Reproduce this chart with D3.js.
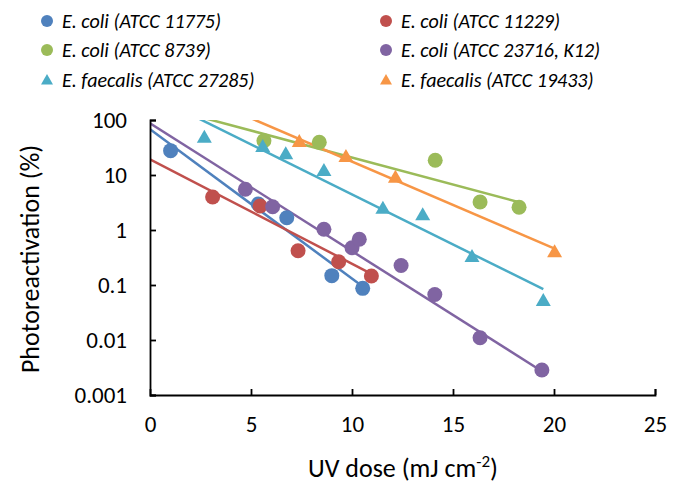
<!DOCTYPE html>
<html>
<head>
<meta charset="utf-8">
<script src="https://cdn.jsdelivr.net/npm/d3@7"></script>
<style>
  body { margin: 0; background: #fff; }
  text { font-family: Carlito, Calibri, Lato, sans-serif; fill: #000; }
</style>
</head>
<body>
<div id="chart"></div>
<script>
const width = 681;
const height = 483;
const margin = { top: 120, right: 26, bottom: 88, left: 150 };

// series names and colours
const names = [
  "E. coli (ATCC 11775)", "E. coli (ATCC 11229)",
  "E. coli (ATCC 8739)", "E. coli (ATCC 23716, K12)",
  "E. faecalis (ATCC 27285)", "E. faecalis (ATCC 19433)"
];
const colors = ["#4F81BD", "#C0504D", "#9BBB59", "#8064A2", "#4BACC6", "#F79646"];
const shapes = ["circle", "circle", "circle", "circle", "triangle", "triangle"];

// measured points (UV dose, photoreactivation %)
const dose11775 = [1.02, 5.36, 6.77, 9.0, 10.53];
const pr11775 = [27.7, 2.97, 1.67, 0.148, 0.087];
const dose11229 = [3.1, 5.45, 7.33, 9.34, 10.96];
const pr11229 = [3.98, 2.73, 0.42, 0.265, 0.146];
const dose8739 = [5.64, 8.38, 14.12, 16.34, 18.27];
const pr8739 = [42, 39.3, 18.5, 3.23, 2.59];
const dose23716 = [4.72, 6.07, 8.61, 10.0, 10.36, 12.43, 14.1, 16.34, 19.4];
const pr23716 = [5.5, 2.65, 1.03, 0.476, 0.68, 0.226, 0.067, 0.011, 0.00285];
const dose27285 = [2.69, 5.58, 6.72, 8.61, 11.53, 13.5, 15.94, 19.47];
const pr27285 = [48.4, 32.7, 24.1, 12, 2.46, 1.88, 0.327, 0.052];
const dose19433 = [7.39, 9.7, 12.15, 20.03];
const pr19433 = [40.3, 21.5, 9.08, 0.4];

// exponential trendlines: [dose0, value0, dose1, value1]
const trend11775 = [0, 68, 10.53, 0.094];
const trend11229 = [0, 19.3, 10.96, 0.16];
const trend8739 = [0, 199, 18.27, 3.2];
const trend23716 = [0, 87, 19.4, 0.0027];
const trend27285 = [0, 292, 19.47, 0.084];
const trend19433 = [0, 661, 20.03, 0.46];

const xTicks = [0, 5, 10, 15, 20, 25];
const yTicks = [0.001, 0.01, 0.1, 1, 10, 100];
const yTickLabels = ["0.001", "0.01", "0.1", "1", "10", "100"];

const series = [
  { x: dose11775, y: pr11775, t: trend11775 },
  { x: dose11229, y: pr11229, t: trend11229 },
  { x: dose8739, y: pr8739, t: trend8739 },
  { x: dose23716, y: pr23716, t: trend23716 },
  { x: dose27285, y: pr27285, t: trend27285 },
  { x: dose19433, y: pr19433, t: trend19433 }
].map((s, i) => ({ ...s, name: names[i], color: colors[i], shape: shapes[i] }));

const svg = d3.select("#chart").append("svg")
  .attr("width", width)
  .attr("height", height);

const x = d3.scaleLinear().domain([0, 25]).range([margin.left, width - margin.right]);
const y = d3.scaleLog().domain([0.001, 100]).range([height - margin.bottom, margin.top]);

svg.append("clipPath").attr("id", "plot")
  .append("rect")
  .attr("x", x(0)).attr("y", y(100))
  .attr("width", x(25) - x(0)).attr("height", y(0.001) - y(100));

// trendlines
series.forEach(s => {
  svg.append("line")
    .attr("clip-path", "url(#plot)")
    .attr("x1", x(s.t[0])).attr("y1", y(s.t[1]))
    .attr("x2", x(s.t[2])).attr("y2", y(s.t[3]))
    .attr("stroke", s.color)
    .attr("stroke-width", 2.5);
});

function drawMarker(g, shape, color, r) {
  if (shape === "circle") {
    g.append("circle").attr("r", r).attr("fill", color);
  } else {
    // triangle with side about 2r
    const side = 2 * r;
    g.append("path").attr("d", d3.symbol().type(d3.symbolTriangle).size(side * side * 0.433)())
      .attr("transform", "translate(0,1)")
      .attr("fill", color);
  }
}

// points
series.forEach(s => {
  s.x.forEach((d, i) => {
    const g = svg.append("g").attr("transform", `translate(${x(d)},${y(s.y[i])})`);
    drawMarker(g, s.shape, s.color, 7.5);
  });
});

// axes
const xAxis = svg.append("g")
  .attr("transform", `translate(0,${y(0.001)})`)
  .call(d3.axisBottom(x).tickValues(xTicks).tickSize(-6).tickPadding(21));
const yAxis = svg.append("g")
  .attr("transform", `translate(${x(0)},0)`)
  .call(d3.axisLeft(y).tickValues(yTicks).tickFormat((d, i) => yTickLabels[i]).tickSize(-6).tickPadding(23));

[xAxis, yAxis].forEach(a => {
  a.select(".domain").attr("stroke", "#000").attr("stroke-width", 1.8);
  a.selectAll(".tick line").attr("stroke", "#000").attr("stroke-width", 1.8);
  a.selectAll(".tick text").attr("font-size", 23).attr("font-family", "Carlito, Calibri, Lato, sans-serif");
});
xAxis.selectAll(".tick").filter(d => d === 0).select("line").remove();

// axis titles
const xt = svg.append("text")
  .attr("x", 403).attr("y", 477)
  .attr("text-anchor", "middle")
  .attr("font-size", 26);
xt.append("tspan").text("UV dose (mJ cm");
xt.append("tspan").text("-2").attr("font-size", 17).attr("dy", -10);
xt.append("tspan").text(")").attr("dy", 10);

svg.append("text")
  .attr("transform", "translate(39,259) rotate(-90)")
  .attr("text-anchor", "middle")
  .attr("font-size", 26)
  .text("Photoreactivation (%)");

// legend
const legendX = [47, 386];
const legendY = [21, 50, 80];
series.forEach((s, i) => {
  const g = svg.append("g")
    .attr("transform", `translate(${legendX[i % 2]},${legendY[Math.floor(i / 2)]})`);
  drawMarker(g, s.shape, s.color, 6);
  g.append("text").attr("x", 15).attr("y", 7)
    .attr("font-size", 20).attr("font-style", "italic")
    .text(s.name);
});
</script>
</body>
</html>
